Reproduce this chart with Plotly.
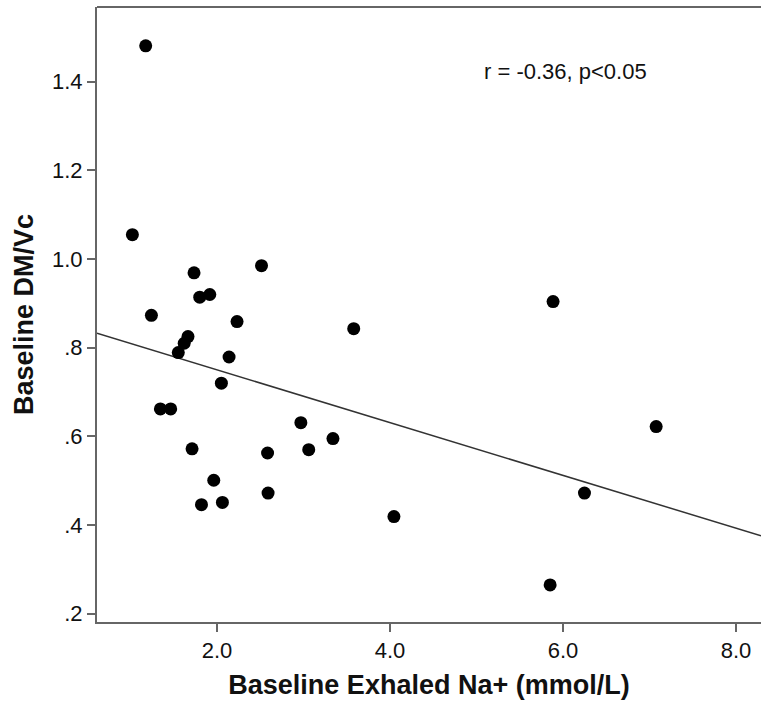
import plotly.graph_objects as go

na_exhaled = [1.175, 1.021, 1.241, 1.734, 1.80, 1.916, 2.231, 2.514, 1.664, 1.620,
              1.552, 2.139, 2.05, 1.345, 1.464, 1.711, 1.962, 1.82, 2.062, 2.584,
              2.59, 2.969, 3.06, 3.34, 3.58, 4.045, 5.885, 5.851, 6.248, 7.077]
dm_vc = [1.481, 1.055, 0.873, 0.969, 0.914, 0.920, 0.859, 0.985, 0.825, 0.810,
         0.789, 0.779, 0.720, 0.662, 0.662, 0.572, 0.501, 0.446, 0.451, 0.5625,
         0.472, 0.631, 0.570, 0.595, 0.843, 0.419, 0.904, 0.265, 0.472, 0.622]

fit_intercept = 0.869
fit_slope = -0.0595

x_range = [0.612, 8.289]
y_range = [0.1813, 1.5685]

x_ticks = [2.0, 4.0, 6.0, 8.0]
x_labels = ["2.0", "4.0", "6.0", "8.0"]
y_ticks = [0.2, 0.4, 0.6, 0.8, 1.0, 1.2, 1.4]
y_labels = [".2", ".4", ".6", ".8", "1.0", "1.2", "1.4"]

fit_x = x_range
fit_y = [fit_intercept + fit_slope * v for v in fit_x]

font_family = "Arial, Liberation Sans, sans-serif"

fig = go.Figure()
fig.add_trace(go.Scatter(x=fit_x, y=fit_y, mode="lines",
                         line=dict(color="#333333", width=1.5),
                         showlegend=False, hoverinfo="skip"))
fig.add_trace(go.Scatter(x=na_exhaled, y=dm_vc, mode="markers",
                         marker=dict(color="black", size=13),
                         showlegend=False))

fig.add_annotation(x=5.062, y=1.4226, xref="x", yref="y",
                   text="r = -0.36, p<0.05", showarrow=False,
                   xanchor="left", yanchor="middle",
                   font=dict(family=font_family, size=22, color="#111111"))

axis_common = dict(showline=True, linecolor="#666666", linewidth=2,
                   ticks="outside", ticklen=8, tickwidth=2, tickcolor="#666666",
                   showgrid=False, zeroline=False, mirror=False, automargin=False,
                   tickfont=dict(family=font_family, size=22, color="#111111"))

fig.update_xaxes(range=x_range, tickvals=x_ticks, ticktext=x_labels,
                 title=dict(text="<b>Baseline Exhaled Na+ (mmol/L)</b>",
                            font=dict(family=font_family, size=27, color="#111111"),
                            standoff=13),
                 **axis_common)
fig.update_yaxes(range=y_range, tickvals=y_ticks, ticktext=y_labels,
                 title=dict(text="<b>Baseline DM/Vc</b>",
                            font=dict(family=font_family, size=27, color="#111111"),
                            standoff=11),
                 **axis_common)

fig.add_shape(type="line", xref="paper", yref="paper", x0=0, x1=1, y0=1, y1=1,
              line=dict(color="#666666", width=2))

fig.update_layout(width=761, height=711,
                  margin=dict(l=97, r=0, t=7, b=89),
                  plot_bgcolor="white", paper_bgcolor="white")

fig.write_html("out.html",
               config={"displayModeBar": False},
               post_script="document.body.style.margin='0px';")
